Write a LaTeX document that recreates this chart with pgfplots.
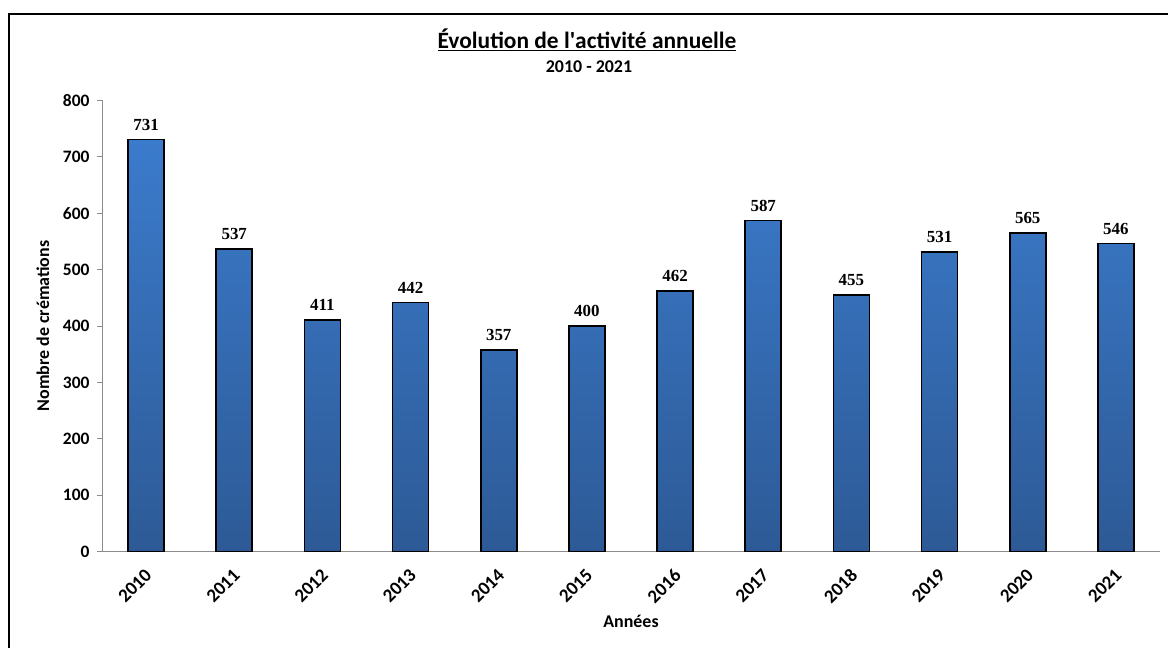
\documentclass[border=0pt]{standalone}
\usepackage{fontspec}
\setmainfont{Carlito}
\newfontfamily\valfont{Liberation Serif}
\usepackage{pgfplots}
\pgfplotsset{compat=1.18}
\definecolor{bartop}{HTML}{3B7BCC}
\definecolor{barbot}{HTML}{2D5A96}
\definecolor{axgray}{HTML}{8C8C8C}
\begin{document}
\begin{tikzpicture}[x=1bp,y=1bp]
\path[use as bounding box] (0,0) rectangle (1168,648);
% frame (only left and top edges are visible)
\draw[line width=1.8bp] (9,0) -- (9,634) -- (1168,634);
% titles
\node[anchor=base, font=\bfseries\fontsize{23.5}{28}\selectfont] at (587,599) {\underline{Évolution de l\textquotesingle activité annuelle}};
\node[anchor=base, font=\bfseries\fontsize{18}{21}\selectfont] at (589,575) {2010 - 2021};
\begin{axis}[
    at={(102bp,96.5bp)}, anchor=south west,
    scale only axis,
    width=1058bp, height=451bp,
    ymin=0, ymax=800,
    xmin=-0.5, xmax=11.5,
    ytick={0,100,...,800},
    xtick={0,...,11},
    xticklabels={2010,2011,2012,2013,2014,2015,2016,2017,2018,2019,2020,2021},
    minor xtick={-0.5,0.5,...,11.5},
    axis line style={axgray, line width=0.8bp},
    axis x line*=bottom, axis y line*=left,
    tick align=outside,
    xtick style={draw=none},
    minor x tick style={axgray, line width=0.8bp},
    minor tick length=6bp,
    ytick style={axgray, line width=0.8bp},
    major tick length=5bp,
    ticklabel style={font=\bfseries\fontsize{17.5}{20}\selectfont},
    /pgf/number format/assume math mode=true,
    xticklabel style={rotate=45, anchor=north east, xshift=-6bp, yshift=-3bp, font=\bfseries\fontsize{19}{22}\selectfont},
    yticklabel style={xshift=-4bp},
    ylabel={Nombre de crémations},
    ylabel style={at={(axis description cs:-0.0558,0.5)}, anchor=center, rotate=0, font=\bfseries\fontsize{18}{21}\selectfont},
    xlabel={Années},
    xlabel style={at={(axis description cs:0.5,-0.154)}, anchor=center, font=\bfseries\fontsize{18}{21}\selectfont},
    nodes near coords,
    every node near coord/.append style={font=\valfont\bfseries\fontsize{17}{20}\selectfont, anchor=south, yshift=5bp, black},
    clip=false,
]
\addplot[ybar, bar width=36bp, draw=black, line width=1.6bp, top color=bartop, bottom color=barbot]
coordinates {(0,731) (1,537) (2,411) (3,442) (4,357) (5,400) (6,462) (7,587) (8,455) (9,531) (10,565) (11,546)};
\end{axis}
\end{tikzpicture}
\end{document}
